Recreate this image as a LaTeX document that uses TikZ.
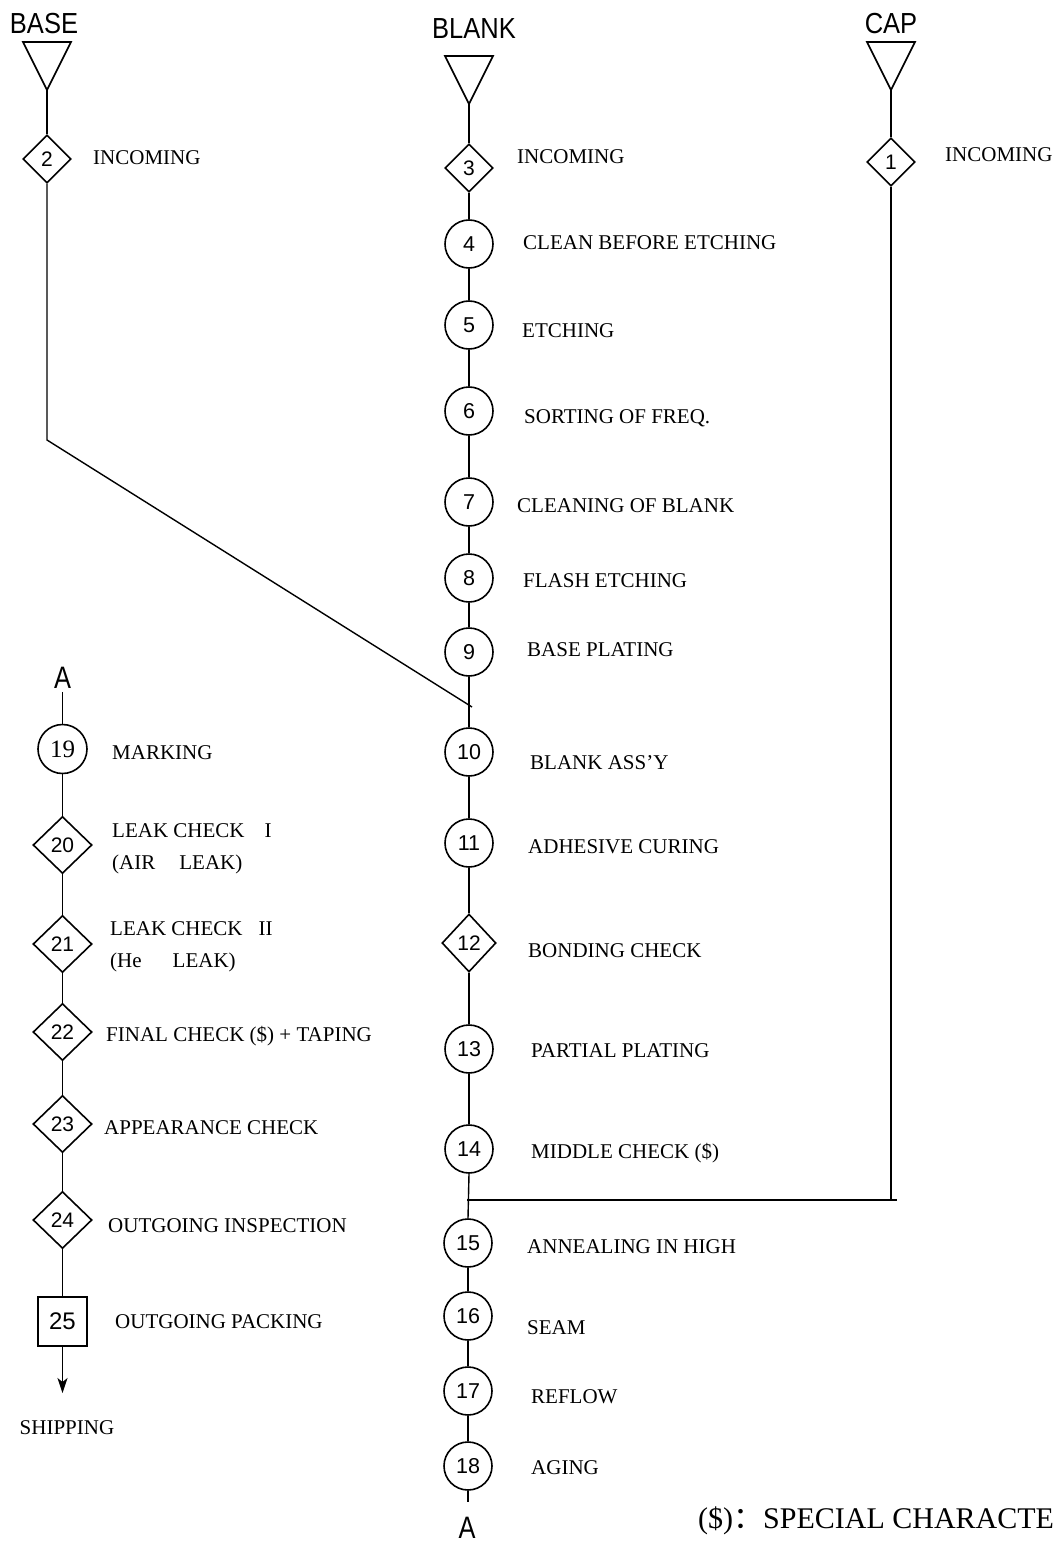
\documentclass[tikz,border=0pt]{standalone}
\usepackage{fontspec}
\setmainfont{Liberation Serif}
\setsansfont{Liberation Sans}
\newfontfamily\cjk{Noto Sans CJK SC}
\usetikzlibrary{shapes.geometric,arrows.meta}
\begin{document}
\begin{tikzpicture}[x=1pt,y=-1pt,
  lbl/.style={anchor=west,inner sep=0pt,text height=14pt,text depth=0pt,font=\fontsize{21}{25}\selectfont},
  circ/.style={circle,draw,line width=1.6pt,minimum size=48pt,inner sep=0pt,font=\sffamily\fontsize{21.5}{24}\selectfont},
  dia/.style={diamond,draw,line width=1.6pt,inner sep=0pt,minimum width=48pt,minimum height=48pt,font=\sffamily\fontsize{21}{24}\selectfont},
  bigdia/.style={dia,minimum width=59pt,minimum height=57pt},
  boxn/.style={rectangle,draw,line width=1.6pt,minimum size=49pt,inner sep=0pt,font=\sffamily\fontsize{24}{28}\selectfont},
  tri/.style={line width=1.6pt,line join=miter},
  ln/.style={line width=1.4pt},
  head/.style={inner sep=0pt,font=\sffamily\fontsize{29}{32}\selectfont}]

\useasboundingbox (0,0) rectangle (1054,1546);

% ---------- headers and source triangles ----------
\node[head] (hBase) at (44,24) {\scalebox{0.88}[1]{BASE}};
\node[head] (hBlank) at (474,29) {\scalebox{0.88}[1]{BLANK}};
\node[head] (hCap) at (891,24) {\scalebox{0.88}[1]{CAP}};

\draw[tri] (23,42) -- (71,42) -- (47,90) -- cycle;
\draw[tri] (445,56) -- (493,56) -- (469,104) -- cycle;
\draw[tri] (867,42) -- (915,42) -- (891,90) -- cycle;
\coordinate (tBase) at (47,90);
\coordinate (tBlank) at (469,104);
\coordinate (tCap) at (891,90);

% ---------- BASE column ----------
\node[dia] (d2) at (47,159) {2};
\node[lbl] (l2) at (93,158) {INCOMING};
\coordinate (bBend) at (47,440);
\coordinate (bJoin) at (472,707);
\draw[ln] (tBase) -- (d2.north);
\draw[ln] (d2.south) -- (bBend) -- (bJoin);

% ---------- CAP column ----------
\node[dia] (d1) at (891,162) {1};
\node[lbl] (l1) at (945,155) {INCOMING};
\coordinate (cEnd) at (891,1200);
\coordinate (hStart) at (467,1200);
\coordinate (hEnd) at (897,1200);
\draw[ln] (tCap) -- (d1.north);
\draw[ln] (d1.south) -- (cEnd);
\draw[ln] (hStart) -- (hEnd);

% ---------- BLANK column ----------
\node[dia] (d3) at (469,168) {3};
\node[circ] (c4) at (469,244) {4};
\node[circ] (c5) at (469,325) {5};
\node[circ] (c6) at (469,411) {6};
\node[circ] (c7) at (469,502) {7};
\node[circ] (c8) at (469,578) {8};
\node[circ] (c9) at (469,652) {9};
\node[circ] (c10) at (469,752) {10};
\node[circ] (c11) at (469,843) {11};
\node[dia,minimum width=54pt,minimum height=58pt] (d12) at (469,943) {12};
\node[circ] (c13) at (469,1049) {13};
\node[circ] (c14) at (469,1149) {14};
\node[circ] (c15) at (468,1243) {15};
\node[circ] (c16) at (468,1316) {16};
\node[circ] (c17) at (468,1391) {17};
\node[circ] (c18) at (468,1466) {18};
\coordinate (bEnd) at (468,1502);
\node[head,font=\sffamily\fontsize{31}{34}\selectfont] (aBot) at (467,1528) {\scalebox{0.82}[1]{A}};

\draw[ln] (tBlank) -- (d3.north);
\draw[ln] (d3.south) -- (c4.north);
\draw[ln] (c4.south) -- (c5.north);
\draw[ln] (c5.south) -- (c6.north);
\draw[ln] (c6.south) -- (c7.north);
\draw[ln] (c7.south) -- (c8.north);
\draw[ln] (c8.south) -- (c9.north);
\draw[ln] (c9.south) -- (c10.north);
\draw[ln] (c10.south) -- (c11.north);
\draw[ln] (c11.south) -- (d12.north);
\draw[ln] (d12.south) -- (c13.north);
\draw[ln] (c13.south) -- (c14.north);
\draw[ln] (c14.south) -- (c15.north);
\draw[ln] (c15.south) -- (c16.north);
\draw[ln] (c16.south) -- (c17.north);
\draw[ln] (c17.south) -- (c18.north);
\draw[ln] (c18.south) -- (bEnd);

\node[lbl] (l3) at (517,157) {INCOMING};
\node[lbl] (l4) at (523,243) {CLEAN BEFORE ETCHING};
\node[lbl] (l5) at (522,330) {ETCHING};
\node[lbl] (l6) at (524,416) {SORTING OF FREQ.};
\node[lbl] (l7) at (517,505) {CLEANING OF BLANK};
\node[lbl] (l8) at (523,580) {FLASH ETCHING};
\node[lbl] (l9) at (527,649) {BASE PLATING};
\node[lbl] (l10) at (530,762) {BLANK ASS’Y};
\node[lbl] (l11) at (528,846) {ADHESIVE CURING};
\node[lbl] (l12) at (528,950) {BONDING CHECK};
\node[lbl] (l13) at (531,1050) {PARTIAL PLATING};
\node[lbl] (l14) at (531,1151) {MIDDLE CHECK (\$)};
\node[lbl] (l15) at (527,1246) {ANNEALING IN HIGH};
\node[lbl] (l16) at (527,1327) {SEAM};
\node[lbl] (l17) at (531,1396) {REFLOW};
\node[lbl] (l18) at (531,1467) {AGING};

% ---------- left continuation column ----------
\node[head,font=\sffamily\fontsize{31}{34}\selectfont] (aTop) at (62.5,678) {\scalebox{0.82}[1]{A}};
\node[circ,minimum size=49pt,font=\fontsize{25}{28}\selectfont] (c19) at (62.5,749) {19};
\node[bigdia] (d20) at (62.5,845) {20};
\node[bigdia] (d21) at (62.5,944) {21};
\node[bigdia] (d22) at (62.5,1032) {22};
\node[bigdia] (d23) at (62.5,1124) {23};
\node[bigdia] (d24) at (62.5,1220) {24};
\node[boxn] (b25) at (62.5,1321.5) {25};
\coordinate (ship) at (62.5,1393);

\draw[ln,shorten <=3pt] (aTop.south) -- (c19.north);
\draw[ln] (c19.south) -- (d20.north);
\draw[ln] (d20.south) -- (d21.north);
\draw[ln] (d21.south) -- (d22.north);
\draw[ln] (d22.south) -- (d23.north);
\draw[ln] (d23.south) -- (d24.north);
\draw[ln] (d24.south) -- (b25.north);
\draw[ln,-{Stealth[length=15pt,width=10pt,inset=4pt]}] (b25.south) -- (ship);

\node[lbl] (l19) at (112,752) {MARKING};
\node[lbl] (l20a) at (112,830) {LEAK CHECK\hspace{20pt}I};
\node[lbl] (l20b) at (112,862) {(AIR\hspace{24pt}LEAK)};
\node[lbl] (l21a) at (110,928) {LEAK CHECK\hspace{16pt}II};
\node[lbl] (l21b) at (110,960) {(He\hspace{31pt}LEAK)};
\node[lbl] (l22) at (106,1034) {FINAL CHECK (\$) + TAPING};
\node[lbl] (l23) at (104,1127) {APPEARANCE CHECK};
\node[lbl] (l24) at (108,1225) {OUTGOING INSPECTION};
\node[lbl] (l25) at (115,1321) {OUTGOING PACKING};
\node[lbl,anchor=center] (lship) at (67,1427) {SHIPPING};

% ---------- legend ----------
\node[anchor=base west,inner sep=0pt,font=\fontsize{30}{34}\selectfont] (legend) at (698,1528) {(\$){\cjk ：}SPECIAL CHARACTE};
\end{tikzpicture}
\end{document}
